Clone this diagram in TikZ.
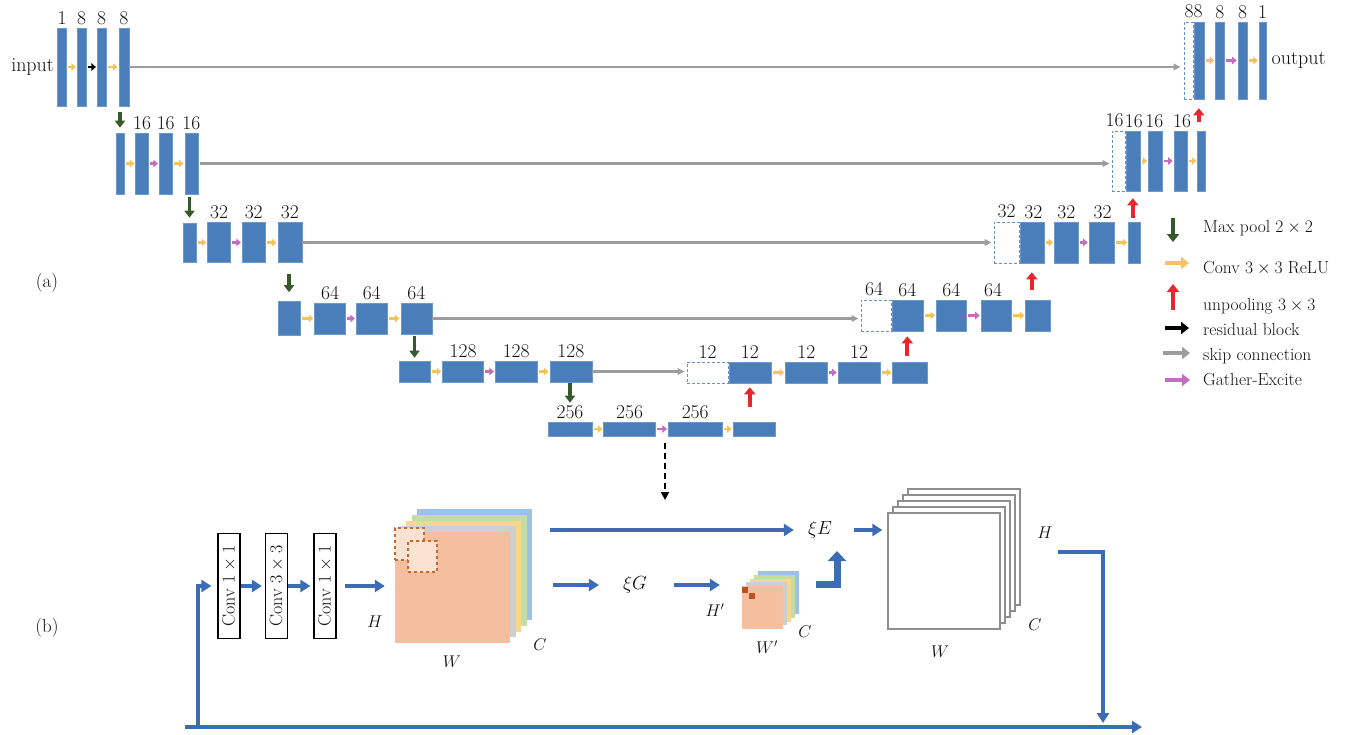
\RequirePackage{fix-cm}
\documentclass[tikz,border=0pt]{standalone}
\usepackage{tikz}
\usetikzlibrary{arrows.meta,positioning}
\usepackage{xcolor}
\definecolor{ink}{HTML}{111111}
\definecolor{barblue}{HTML}{4A7EBB}
\definecolor{convyel}{HTML}{F6C25A}
\definecolor{gemag}{HTML}{C46CC0}
\definecolor{poolgreen}{HTML}{36592A}
\definecolor{unred}{HTML}{E9262B}
\definecolor{skipgray}{HTML}{9C9C9C}
\definecolor{flowblue}{HTML}{3C6DB4}
\definecolor{fmorange}{HTML}{F5BE9E}
\definecolor{fmgray}{HTML}{CFCFCF}
\definecolor{fmyellow}{HTML}{F5D88A}
\definecolor{fmgreen}{HTML}{C6DCA6}
\definecolor{fmblue}{HTML}{9CC3E4}
\definecolor{winbrown}{HTML}{C26A32}
\definecolor{dotbrown}{HTML}{B9521B}
\definecolor{wsgray}{HTML}{8E8E8E}
\tikzset{
  >=Latex,
  every node/.style={text=ink},
  bar/.style={fill=barblue,draw=barblue!80!white,line width=0.6pt,inner sep=0pt},
  ghost/.style={draw=barblue!85!white,dash pattern=on 3pt off 2pt,line width=1pt,fill=white,inner sep=0pt},
  num/.style={font=\fontsize{19.5}{20}\selectfont,inner sep=0pt},
  txt/.style={font=\fontsize{20}{22}\selectfont,inner sep=0pt},
  legtxt/.style={font=\fontsize{17.5}{20}\selectfont,inner sep=0pt,anchor=base west},
  conv/.style={-{Triangle[length=4.5pt,width=7.5pt]},line width=2.6pt,draw=convyel,shorten <=1.5pt,shorten >=1pt},
  gex/.style={conv,draw=gemag},
  resid/.style={conv,draw=black},
  skip/.style={-{Triangle[length=7pt,width=6.5pt]},line width=2.2pt,draw=skipgray},
  pool/.style={-{Triangle[length=7pt,width=10pt]},line width=3.5pt,draw=poolgreen},
  unpool/.style={-{Triangle[length=7pt,width=11pt]},line width=4pt,draw=unred},
  legarrow/.style={line width=4.5pt,shorten <=0pt,shorten >=0pt,-{Triangle[length=8pt,width=12pt]}},
  flow/.style={-{Triangle[length=10pt,width=12pt]},line width=4.5pt,draw=flowblue},
  fatflow/.style={-{Triangle[length=10pt,width=18pt]},line width=7pt,draw=flowblue},
  convbox/.style={draw=black,line width=1.2pt,fill=white,minimum width=22pt,minimum height=105pt,inner sep=0pt,font=\fontsize{18}{20}\selectfont},
  fmbox/.style={minimum width=115pt,minimum height=111pt,inner sep=0pt},
  win/.style={draw=winbrown,dashed,line width=1.3pt,fill=fmorange!45!white,minimum width=29pt,minimum height=32pt,inner sep=0pt},
  gbox/.style={minimum width=41pt,minimum height=43pt,inner sep=0pt},
  dot/.style={fill=dotbrown,minimum size=6pt,inner sep=0pt},
  wbox/.style={draw=wsgray,line width=1.3pt,fill=white,minimum width=112pt,minimum height=116pt,inner sep=0pt},
  dim/.style={font=\fontsize{17}{18}\selectfont,inner sep=0pt},
  gedash/.style={-{Triangle[length=8pt,width=8pt]},line width=1.8pt,dash pattern=on 6pt off 4pt,draw=black},
}

\begin{document}
\begin{tikzpicture}[x=1pt,y=-1pt]
\useasboundingbox (0,0) rectangle (1351,734);

% (a) encoder, level 1
\node[bar,minimum width=9pt,minimum height=78pt] (e11) at (62,67) {};
\node[bar,minimum width=9pt,minimum height=78pt,right=10pt of e11] (e12) {};
\node[bar,minimum width=9pt,minimum height=78pt,right=10.5pt of e12] (e13) {};
\node[bar,minimum width=10pt,minimum height=78pt,right=12pt of e13] (e14) {};
\node[num,above=3pt of e11] (n11) {1};
\node[num,above=3pt of e12] (n12) {8};
\node[num,above=3pt of e13] (n13) {8};
\node[num,above=3pt of e14] (n14) {8};
\node[txt,left=3pt of e11] (inp) {input};
\draw[conv] (e11.east) -- (e12.west);
\draw[resid] (e12.east) -- (e13.west);
\draw[conv] (e13.east) -- (e14.west);

% level 2
\node[bar,minimum width=8pt,minimum height=61pt] (e21) at (120,163.5) {};
\node[bar,minimum width=13pt,minimum height=61pt,right=11pt of e21] (e22) {};
\node[bar,minimum width=13pt,minimum height=61pt,right=10pt of e22] (e23) {};
\node[bar,minimum width=13pt,minimum height=61pt,right=12pt of e23] (e24) {};
\node[num,above=3pt of e22] (n22) {16};
\node[num,above=3pt of e23] (n23) {16};
\node[num,above=3pt of e24] (n24) {16};
\draw[conv] (e21.east) -- (e22.west);
\draw[gex] (e22.east) -- (e23.west);
\draw[conv] (e23.east) -- (e24.west);

% level 3
\node[bar,minimum width=13pt,minimum height=39pt] (e31) at (189.5,242.5) {};
\node[bar,minimum width=23pt,minimum height=40pt,right=11pt of e31] (e32) {};
\node[bar,minimum width=23pt,minimum height=40pt,right=11pt of e32] (e33) {};
\node[bar,minimum width=24pt,minimum height=40pt,right=12pt of e33] (e34) {};
\node[num,above=3pt of e32] (n32) {32};
\node[num,above=3pt of e33] (n33) {32};
\node[num,above=3pt of e34] (n34) {32};
\draw[conv] (e31.east) -- (e32.west);
\draw[gex] (e32.east) -- (e33.west);
\draw[conv] (e33.east) -- (e34.west);

% level 4
\node[bar,minimum width=22pt,minimum height=34pt] (e41) at (289,318.5) {};
\node[bar,minimum width=31pt,minimum height=31pt,right=14pt of e41] (e42) {};
\node[bar,minimum width=31pt,minimum height=31pt,right=10pt of e42] (e43) {};
\node[bar,minimum width=31pt,minimum height=31pt,right=13pt of e43] (e44) {};
\node[num,above=3pt of e42] (n42) {64};
\node[num,above=3pt of e43] (n43) {64};
\node[num,above=3pt of e44] (n44) {64};
\draw[conv] (e41.east) -- (e42.west);
\draw[gex] (e42.east) -- (e43.west);
\draw[conv] (e43.east) -- (e44.west);

% level 5
\node[bar,minimum width=31pt,minimum height=21pt] (e51) at (414.5,371.5) {};
\node[bar,minimum width=41pt,minimum height=21pt,right=12pt of e51] (e52) {};
\node[bar,minimum width=42pt,minimum height=21pt,right=11pt of e52] (e53) {};
\node[bar,minimum width=42pt,minimum height=21pt,right=12pt of e53] (e54) {};
\node[num,above=3pt of e52] (n52) {128};
\node[num,above=3pt of e53] (n53) {128};
\node[num,above=3pt of e54] (n54) {128};
\draw[conv] (e51.east) -- (e52.west);
\draw[gex] (e52.east) -- (e53.west);
\draw[conv] (e53.east) -- (e54.west);

% bottom, 256
\node[bar,minimum width=44pt,minimum height=14pt] (e61) at (570,429) {};
\node[bar,minimum width=52pt,minimum height=14pt,right=11pt of e61] (e62) {};
\node[bar,minimum width=54pt,minimum height=14pt,right=12pt of e62] (e63) {};
\node[bar,minimum width=42pt,minimum height=14pt,right=10pt of e63] (e64) {};
\node[num,above=3pt of e61] (n61) {256};
\node[num,above=3pt of e62] (n62) {256};
\node[num,above=3pt of e63] (n63) {256};
\draw[conv] (e61.east) -- (e62.west);
\draw[gex] (e62.east) -- (e63.west);
\draw[conv] (e63.east) -- (e64.west);

% decoder, level 5
\node[ghost,minimum width=41pt,minimum height=21pt] (d5s) at (707.5,372.5) {};
\node[bar,minimum width=42pt,minimum height=21pt,right=0pt of d5s] (d51) {};
\node[bar,minimum width=42pt,minimum height=21pt,right=14pt of d51] (d52) {};
\node[bar,minimum width=42pt,minimum height=21pt,right=10pt of d52] (d53) {};
\node[bar,minimum width=35pt,minimum height=21pt,right=12pt of d53] (d54) {};
\node[num,above=3pt of d5s] (m5s) {12};
\node[num,above=3pt of d51] (m51) {12};
\node[num,above=3pt of d52] (m52) {12};
\node[num,above=3pt of d53] (m53) {12};
\draw[conv] (d51.east) -- (d52.west);
\draw[gex] (d52.east) -- (d53.west);
\draw[conv] (d53.east) -- (d54.west);

% decoder, level 4
\node[ghost,minimum width=30pt,minimum height=31pt] (d4s) at (876,315.5) {};
\node[bar,minimum width=31pt,minimum height=31pt,right=0pt of d4s] (d41) {};
\node[bar,minimum width=30pt,minimum height=31pt,right=13pt of d41] (d42) {};
\node[bar,minimum width=30pt,minimum height=31pt,right=14pt of d42] (d43) {};
\node[bar,minimum width=25pt,minimum height=31pt,right=14pt of d43] (d44) {};
\node[num,above=3pt of d4s,xshift=-2pt] (m4s) {64};
\node[num,above=3pt of d41] (m41) {64};
\node[num,above=3pt of d42] (m42) {64};
\node[num,above=3pt of d43,xshift=-3pt] (m43) {64};
\draw[conv] (d41.east) -- (d42.west);
\draw[gex] (d42.east) -- (d43.west);
\draw[conv] (d43.east) -- (d44.west);

% decoder, level 3
\node[ghost,minimum width=25pt,minimum height=41pt] (d3s) at (1006.5,242.5) {};
\node[bar,minimum width=24pt,minimum height=41pt,right=0pt of d3s] (d31) {};
\node[bar,minimum width=24pt,minimum height=41pt,right=10pt of d31] (d32) {};
\node[bar,minimum width=25pt,minimum height=41pt,right=10pt of d32] (d33) {};
\node[bar,minimum width=12pt,minimum height=41pt,right=14pt of d33] (d34) {};
\node[num,above=3pt of d3s] (m3s) {32};
\node[num,above=3pt of d31,xshift=1.5pt] (m31) {32};
\node[num,above=3pt of d32] (m32) {32};
\node[num,above=3pt of d33,xshift=1pt] (m33) {32};
\draw[conv] (d31.east) -- (d32.west);
\draw[gex] (d32.east) -- (d33.west);
\draw[conv] (d33.east) -- (d34.west);

% decoder, level 2
\node[ghost,minimum width=13pt,minimum height=60pt] (d2s) at (1118.5,161) {};
\node[bar,minimum width=14pt,minimum height=60pt,right=0pt of d2s] (d21) {};
\node[bar,minimum width=14pt,minimum height=60pt,right=8pt of d21] (d22) {};
\node[bar,minimum width=13pt,minimum height=60pt,right=11pt of d22] (d23) {};
\node[bar,minimum width=8pt,minimum height=60pt,right=10pt of d23] (d24) {};
\node[num,above=3pt of d2s,xshift=-4pt] (m2s) {16};
\node[num,above=3pt of d21,xshift=1pt] (m21) {16};
\node[num,above=3pt of d22,xshift=-1pt] (m22) {16};
\node[num,above=3pt of d23,xshift=1.5pt] (m23) {16};
\draw[conv] (d21.east) -- (d22.west);
\draw[gex] (d22.east) -- (d23.west);
\draw[conv] (d23.east) -- (d24.west);

% decoder, level 1
\node[ghost,minimum width=9pt,minimum height=77pt] (d1s) at (1188.5,60.5) {};
\node[bar,minimum width=10pt,minimum height=77pt,right=0pt of d1s] (d11) {};
\node[bar,minimum width=9pt,minimum height=77pt,right=11pt of d11] (d12) {};
\node[bar,minimum width=9pt,minimum height=77pt,right=13pt of d12] (d13) {};
\node[bar,minimum width=7pt,minimum height=77pt,right=11.5pt of d13] (d14) {};
\node[num,above=3pt of d1s.north east] (m1s) {88};
\node[num,above=3pt of d12] (m12) {8};
\node[num,above=3pt of d13] (m13) {8};
\node[num,above=3pt of d14] (m14) {1};
\node[txt,right=5pt of d14] (outp) {output};
\draw[conv] (d11.east) -- (d12.west);
\draw[gex] (d12.east) -- (d13.west);
\draw[conv] (d13.east) -- (d14.west);

% skip connections
\draw[skip,shorten >=3pt] (e14.east) -- (e14.east -| d1s.west);
\draw[skip,shorten <=2pt,shorten >=2pt] (e24.east) -- (e24.east -| d2s.west);
\draw[skip,shorten >=2pt] (e34.east) -- (e34.east -| d3s.west);
\draw[skip,shorten >=2pt] (e44.east) -- (e44.east -| d4s.west);
\draw[skip,shorten >=2pt] (e54.east) -- (e54.east -| d5s.west);

% max pool
\draw[pool,shorten <=6pt,shorten >=5pt] (e14.south -| e21.north) -- (e21.north);
\draw[pool,shorten <=3pt,shorten >=5pt] (e24.south -| e31.north) -- (e31.north);
\draw[pool,shorten <=11pt,shorten >=9pt] (e34.south -| e41.north) -- (e41.north);
\draw[pool,shorten <=2pt,shorten >=3pt] (e44.south -| e51.north) -- (e51.north);
\draw[pool,shorten <=1pt,shorten >=19pt] (e54.south -| e61.north) -- (e61.north);

% unpooling
\draw[unpool,shorten <=15pt,shorten >=4pt] (e64.north -| d51.south) -- (d51.south);
\draw[unpool,shorten <=6pt,shorten >=5pt] (d54.north -| d41.south) -- (d41.south);
\draw[unpool,shorten <=10pt,shorten >=9pt] (d44.north -| d31.south) -- (d31.south);
\draw[unpool,shorten <=4pt,shorten >=7pt] (d34.north -| d21.south) -- (d21.south);
\draw[unpool,shorten <=9pt,shorten >=9pt] (d24.north -| d11.south) -- (d11.south);

% legend
\node[legtxt] (lg1) at (1203,232) {Max pool $2\times2$};
\node[legtxt] (lg2) at (1203,273) {Conv $3\times3$ ReLU};
\node[legtxt] (lg3) at (1203,310) {unpooling $3\times3$};
\node[legtxt] (lg4) at (1203,335) {residual block};
\node[legtxt] (lg5) at (1203,360) {skip connection};
\node[legtxt] (lg6) at (1203,385) {Gather-Excite};
\draw[pool,legarrow] ([shift={(-30,-14)}]lg1.base west) -- ++(0,24);
\draw[conv,legarrow,line width=4pt] ([shift={(-38,-10)}]lg2.base west) -- ++(24,0);
\draw[unpool,legarrow] ([shift={(-30,0)}]lg3.base west) -- ++(0,-26);
\draw[resid,legarrow,line width=4pt] ([shift={(-38,-7)}]lg4.base west) -- ++(24,0);
\draw[skip,legarrow,line width=3.2pt] ([shift={(-40,-7)}]lg5.base west) -- ++(27,0);
\draw[gex,legarrow] ([shift={(-38,-5)}]lg6.base west) -- ++(25,0);

\node[txt,font=\fontsize{19}{20}\selectfont] (pa) at (47,283) {(a)};
\node[txt,font=\fontsize{19}{20}\selectfont] (pb) at (47,628) {(b)};

% (b) gather-excite block
\draw[gedash,shorten <=7pt] (e62.south east -| 665,0) coordinate (gefrom) -- (665,500) coordinate (geto);

\node[convbox] (cv1) at (229,586) {\rotatebox{90}{Conv $1\times1$}};
\node[convbox] (cv2) at (276.5,586) {\rotatebox{90}{Conv $3\times3$}};
\node[convbox] (cv3) at (325,586) {\rotatebox{90}{Conv $1\times1$}};

% input feature map
\node[fmbox,fill=fmblue] (fm4) at (474.5,564.5) {};
\node[fmbox,fill=fmgreen] (fm3) at (469,570.25) {};
\node[fmbox,fill=fmyellow] (fm2) at (463.5,576) {};
\node[fmbox,fill=fmgray] (fm1) at (458,581.75) {};
\node[fmbox,fill=fmorange] (fmap) at (452.5,587.5) {};
\node[win] (w1) at (409.5,544) {};
\node[win,minimum height=31pt] (w2) at (422.5,556.5) {};
\node[dim] (fh) at (375,622) {$H$};
\node[dim] (fw) at (452,662) {$W$};
\node[dim] (fc) at (540,645) {$C$};

\node[dim,font=\fontsize{19}{20}\selectfont] (xiE) at (820,530) {$\xi E$};
\node[dim,font=\fontsize{19}{20}\selectfont] (xiG) at (635,585) {$\xi G$};

% gathered map
\node[gbox,fill=fmblue] (gs4) at (778.5,592.5) {};
\node[gbox,fill=fmgreen] (gs3) at (774.5,596.25) {};
\node[gbox,fill=fmyellow] (gs2) at (770.5,600) {};
\node[gbox,fill=fmgray] (gs1) at (766.5,603.75) {};
\node[gbox,fill=fmorange] (gsf) at (762.5,607.5) {};
\node[dot] (gd1) at (745,590) {};
\node[dot] (gd2) at (751.5,596) {};
\node[dim] (gh) at (715,610) {$H'$};
\node[dim] (gw) at (767,647) {$W'$};
\node[dim] (gc) at (805,632) {$C$};

% output map
\node[wbox] (ws4) at (964,547) {};
\node[wbox] (ws3) at (959,553) {};
\node[wbox] (ws2) at (954,559) {};
\node[wbox] (ws1) at (949,565) {};
\node[wbox] (ws0) at (944,571) {};
\node[dim] (wh) at (1045,533) {$H$};
\node[dim] (wc) at (1035,625) {$C$};
\node[dim] (ww) at (940,652) {$W$};

% flow
\coordinate (fbl) at (185,727);
\coordinate (fbr) at (1142,727);
\coordinate (fbup) at (198,725);
\coordinate (gsout) at (816,584);
\coordinate (gsup) at (837,551);
\coordinate (wsout) at (1058,552);
\coordinate (fbjoin) at (1103,723);
\draw[flow] (fbl) -- (fbr);
\draw[flow,shorten >=6pt] (fbup) |- (cv1.west);
\draw[flow,shorten >=3pt] (cv1.east) -- (cv2.west);
\draw[flow,shorten >=3pt] (cv2.east) -- (cv3.west);
\draw[flow,shorten <=8pt,shorten >=10pt] (cv3.east) -- (cv3.east -| fmap.west);
\draw[flow,shorten <=18pt,shorten >=14pt] (fm4.east |- xiE.west) -- (xiE.west);
\draw[flow,shorten <=21pt,shorten >=24pt] (fm4.east |- xiG.west) -- (xiG.west);
\draw[flow,shorten <=27pt,shorten >=22pt] (xiG.east) -- (xiG.east -| gsf.west);
\draw[fatflow] (gsout) -| (gsup);
\draw[flow,shorten <=22pt,shorten >=5pt] (xiE.east) -- (xiE.east -| ws0.west);
\draw[flow] (wsout) -| (fbjoin);

\end{tikzpicture}
\end{document}
